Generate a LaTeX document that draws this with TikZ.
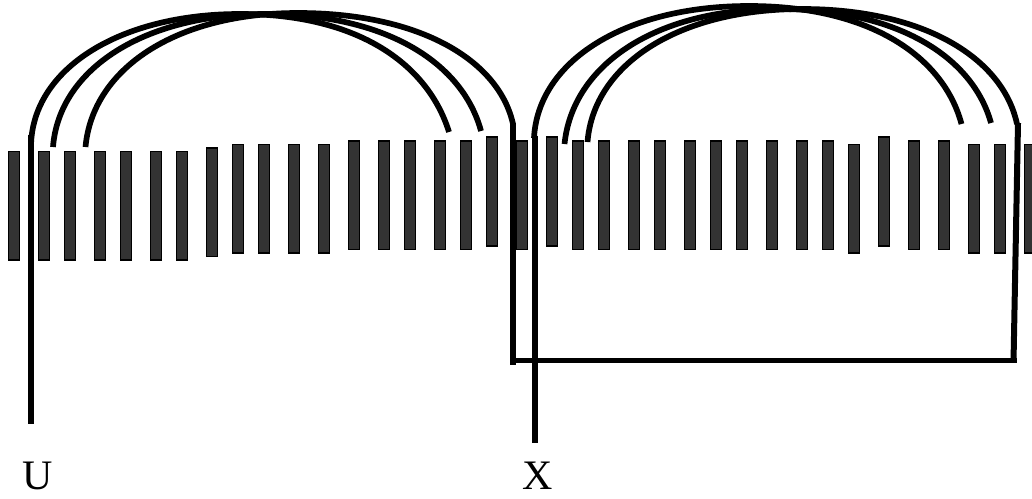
\documentclass[tikz,border=0pt]{standalone}
\usepackage{fontspec}
\setmainfont{Liberation Serif}
\tikzset{
  x=1pt,y=-1pt,
  bar/.style={draw=black,line width=1.9pt,fill=black!80},
  wire/.style={draw=black,line width=6pt,line cap=butt},
  loopwire/.style={draw=black,line width=5.7pt,line cap=butt},
  tag/.style={font=\fontsize{42}{42}\selectfont,inner sep=0pt,anchor=base}
}
% start x,y; peak x,y; end x,y; start slant; end slant
\newcommand{\halfloop}[8]{%
  \draw[loopwire] (#1,#2)
    .. controls ({#1+#7},{#2-0.58*(#2-#4)}) and ({#3-0.58*(#3-#1)},#4) .. (#3,#4)
    .. controls ({#3+0.57*(#5-#3)},#4) and ({#5-#8},{#6-0.57*(#6-#4)}) .. (#5,#6);}
\begin{document}
\begin{tikzpicture}
\useasboundingbox (0,0) rectangle (1032,498);
\clip (0,0) rectangle (1032,498);
\foreach \c/\t in {14/151.5,44/151.5,70/151.5,100/151.5,126/151.5,156/151.5,182/151.5,212/148,238/144.5,264/144.5,294/144.5,324/144.5,354/141,384/141,410/141,440/141,466/141,492/137.2,
522/141,552/137.2,578/141,604/141,634/141,660/141,690/141,716/141,742/141,772/141,802/141,828/141,854/144.5,884/137.2,914/141,944/141,974/144.5,1000/144.5,1030/144.5}
  \draw[bar] ({\c-5.5},\t) rectangle ({\c+5.5},{\t+108.5});
% left loops
\halfloop{31}{146}{240}{14}{449}{132}{1}{21}
\halfloop{53}{147}{266}{14}{481}{131}{6}{18}
\halfloop{85.5}{147}{298}{13}{513}{124}{7}{14}
% right loops
\halfloop{534}{138}{749}{6}{961.5}{124}{4}{18}
\halfloop{564.5}{144}{778}{9}{991}{123}{8}{18}
\halfloop{587.5}{142}{802}{9}{1017}{124}{6}{14}
% feeds
\coordinate (u0) at (31,135);
\coordinate (u1) at (31,424);
\draw[wire] (u0) -- (u1);
\coordinate (x0) at (535,136);
\coordinate (x1) at (535,443);
\draw[wire] (x0) -- (x1);
\coordinate (r0) at (513,123);
\coordinate (r1) at (513,365);
\coordinate (b0) at (511,360.5);
\coordinate (b1) at (1017,360.5);
\coordinate (r2) at (1013.5,362);
\coordinate (r3) at (1018,123);
\draw[wire] (r0) -- (r1);
\draw[loopwire] (b0) -- (b1);
\draw[wire] (r2) -- (r3);
\node[tag] (u) at (37.5,489) {U};
\node[tag] (x) at (538,489) {X};
\end{tikzpicture}
\end{document}
